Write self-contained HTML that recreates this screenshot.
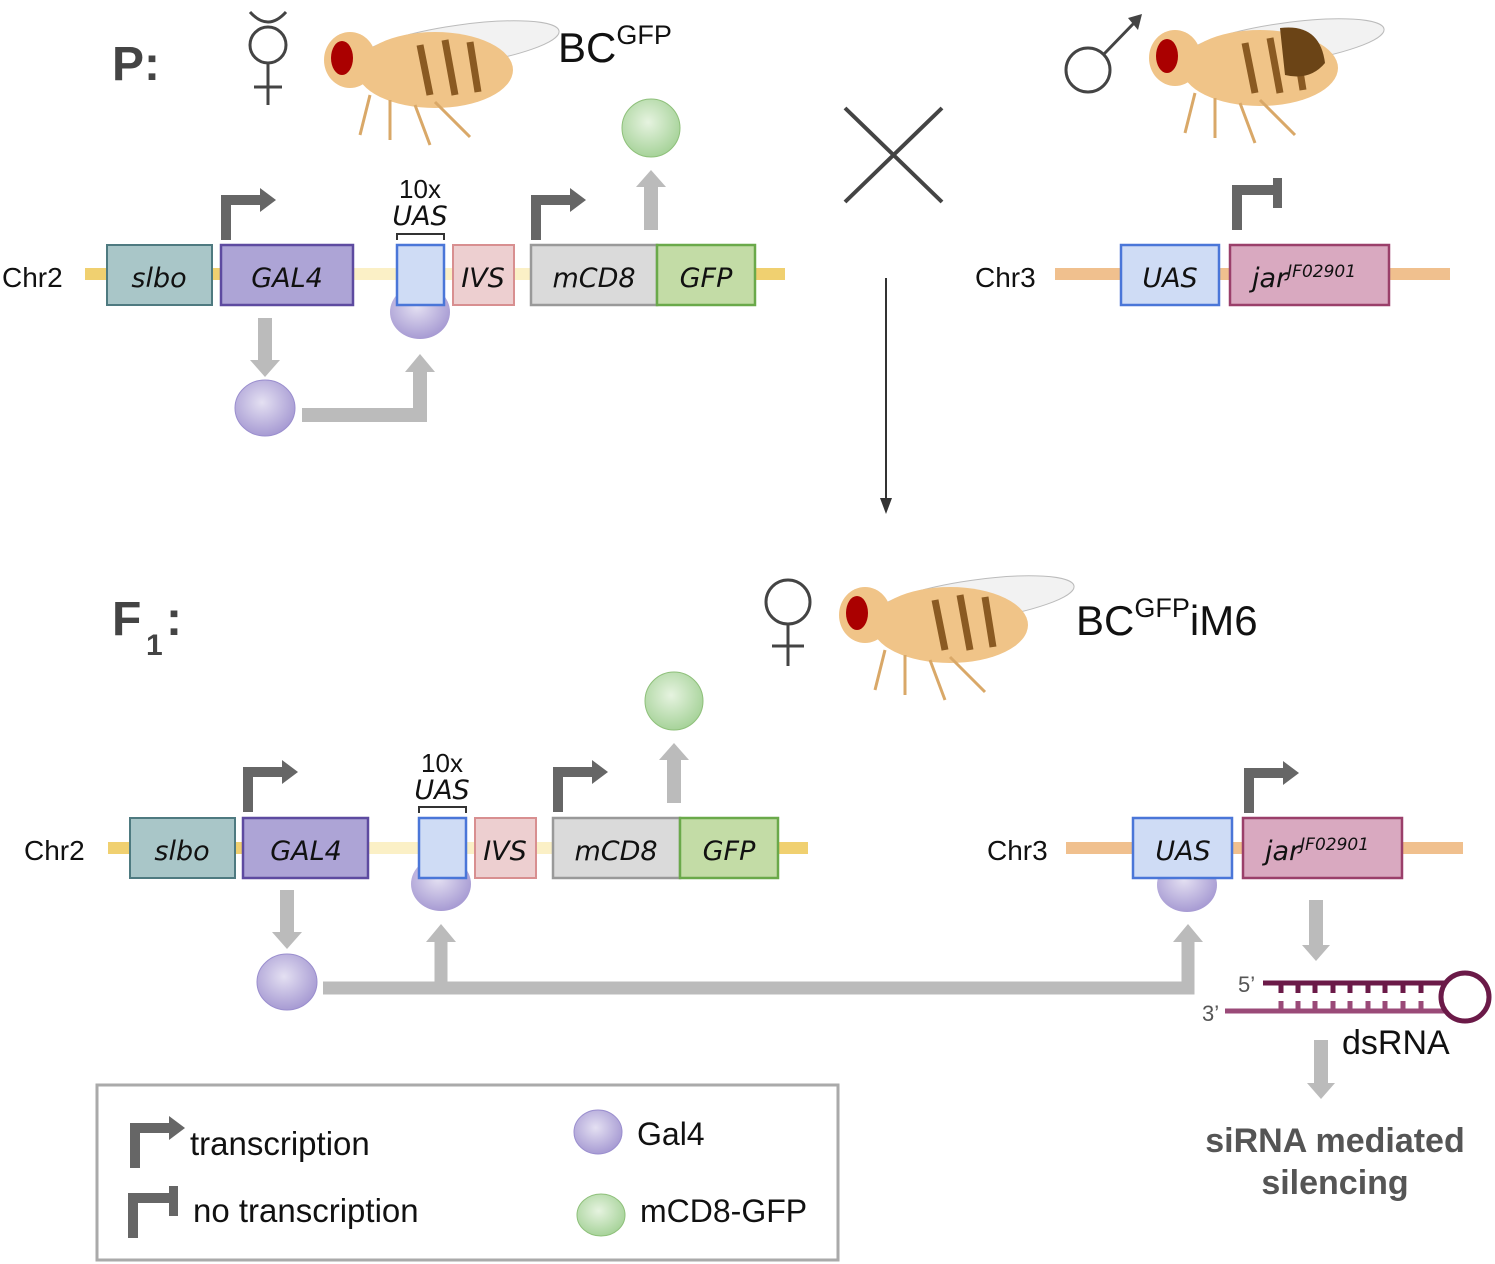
<!DOCTYPE html>
<html><head><meta charset="utf-8"><style>
body{margin:0;background:#fff}
svg{display:block}
text{font-family:"Liberation Sans",sans-serif}
.it{font-family:"DejaVu Sans","Liberation Sans",sans-serif;font-style:italic;font-size:27px;fill:#111}
</style></head><body>
<svg width="1495" height="1264" viewBox="0 0 1495 1264">
<defs>
<radialGradient id="pur" cx="0.45" cy="0.4" r="0.6"><stop offset="0" stop-color="#e4e0f2"/><stop offset="1" stop-color="#a79bd3"/></radialGradient>
<radialGradient id="grn" cx="0.45" cy="0.4" r="0.6"><stop offset="0" stop-color="#e6f3e0"/><stop offset="1" stop-color="#a7d39a"/></radialGradient>
<g id="tr"><path d="M0 40 V0 H36" fill="none" stroke="#666" stroke-width="10"/><path d="M34 -12 L50 0 L34 12Z" fill="#666"/></g>
<g id="ntr"><path d="M0 48 V8 H40" fill="none" stroke="#666" stroke-width="10"/><rect x="36" y="-4" width="9" height="30" fill="#666"/></g>
<g id="fly">
<ellipse cx="110" cy="25" rx="100" ry="20" fill="#f2f2f2" stroke="#bbb" transform="rotate(-8 110 25)"/>
<ellipse cx="85" cy="50" rx="78" ry="38" fill="#f0c488"/>
<ellipse cx="0" cy="40" rx="26" ry="28" fill="#f0c488"/>
<ellipse cx="-8" cy="38" rx="11" ry="17" fill="#a00"/>
<path d="M70 25 l10 50 M95 20 l10 55 M120 22 l8 50" stroke="#8a5a22" stroke-width="7"/>
<path d="M20 75 l-10 40 M40 80 l0 40 M65 85 l15 40 M85 82 l35 35" stroke="#d9a868" stroke-width="3" fill="none"/>
</g>
</defs>

<!-- P row -->
<text x="112" y="80" font-size="48" font-weight="bold" fill="#444">P:</text>
<g stroke="#444" stroke-width="3" fill="none"><circle cx="268" cy="45" r="18"/><path d="M250 12 q18 20 36 0 M268 63 v42 M254 87 h28"/></g>
<use href="#fly" x="350" y="20"/>
<text x="558" y="62" font-size="42" fill="#111">BC<tspan font-size="27" dy="-18">GFP</tspan></text>
<g stroke="#444" stroke-width="3" fill="none"><circle cx="1088" cy="70" r="22"/><path d="M1104 54 L1135 22"/></g>
<path d="M1128 18 L1142 14 L1138 30Z" fill="#444"/>
<use href="#fly" x="1175" y="18"/>
<path d="M1280 28 q40 -5 45 35 q-15 18 -40 12Z" fill="#6b4416"/>

<line x1="85" y1="274" x2="785" y2="274" stroke="#f0d070" stroke-width="12"/>
<line x1="353" y1="274" x2="531" y2="274" stroke="#fbf0c6" stroke-width="12"/>
<use href="#tr" x="226" y="200"/><use href="#tr" x="536" y="200"/>
<rect x="107" y="245" width="105" height="60" fill="#a9c6c8" stroke="#4e7a80" stroke-width="2"/>
<text x="159" y="287" class="it" text-anchor="middle">slbo</text>
<rect x="221" y="245" width="132" height="60" fill="#ada4d6" stroke="#5d4aa0" stroke-width="2.5"/>
<text x="287" y="287" class="it" text-anchor="middle">GAL4</text>
<ellipse cx="420" cy="312" rx="30" ry="27" fill="url(#pur)"/>
<rect x="397" y="245" width="47" height="60" fill="#cfdcf5" stroke="#4a76d8" stroke-width="2.5"/>
<text x="420" y="198" font-size="26" text-anchor="middle" fill="#111">10x</text>
<text x="420" y="225" class="it" font-size="25" text-anchor="middle">UAS</text>
<path d="M397 240 v-6 h47 v6" fill="none" stroke="#333" stroke-width="2"/>
<rect x="453" y="245" width="61" height="60" fill="#edcfd0" stroke="#d88f90" stroke-width="2"/>
<text x="483" y="287" class="it" text-anchor="middle">IVS</text>
<rect x="531" y="245" width="126" height="60" fill="#dadada" stroke="#999" stroke-width="2.5"/>
<text x="594" y="287" class="it" text-anchor="middle">mCD8</text>
<rect x="657" y="245" width="98" height="60" fill="#c3dca6" stroke="#6aa94a" stroke-width="2.5"/>
<text x="706" y="287" class="it" text-anchor="middle">GFP</text>
<text x="2" y="287" font-size="28" fill="#111">Chr2</text>
<rect x="644" y="185" width="14" height="45" fill="#bbb"/><path d="M636 187 L651 170 L666 187Z" fill="#bbb"/>
<circle cx="651" cy="128" r="29" fill="url(#grn)" stroke="#8ec07a"/>
<rect x="258" y="318" width="14" height="45" fill="#bbb"/><path d="M250 360 L265 377 L280 360Z" fill="#bbb"/>
<ellipse cx="265" cy="408" rx="30" ry="28" fill="url(#pur)" stroke="#9a8ece"/>
<path d="M302 415 H420 V370" fill="none" stroke="#bbb" stroke-width="14"/><path d="M405 372 L420 354 L435 372Z" fill="#bbb"/>

<line x1="1055" y1="274" x2="1450" y2="274" stroke="#f0c08e" stroke-width="12"/>
<use href="#ntr" x="1237" y="182"/>
<rect x="1121" y="245" width="98" height="60" fill="#cfdcf5" stroke="#4a76d8" stroke-width="2.5"/>
<text x="1170" y="287" class="it" text-anchor="middle">UAS</text>
<rect x="1230" y="245" width="159" height="60" fill="#d9a9c0" stroke="#9a3f6a" stroke-width="2.5"/>
<text x="1252" y="287" class="it">jar<tspan font-size="17" dy="-10">JF02901</tspan></text>
<text x="975" y="287" font-size="28" fill="#111">Chr3</text>

<path d="M845 108 L942 202 M942 108 L845 202" stroke="#444" stroke-width="4"/>
<line x1="886" y1="278" x2="886" y2="500" stroke="#333" stroke-width="2"/><path d="M880 498 L886 514 L892 498Z" fill="#333"/>

<!-- F1 row -->
<text x="112" y="635" font-size="48" font-weight="bold" fill="#444">F</text><text x="146" y="655" font-size="30" font-weight="bold" fill="#444">1</text><text x="166" y="635" font-size="48" font-weight="bold" fill="#444">:</text>
<g stroke="#444" stroke-width="3" fill="none"><circle cx="788" cy="602" r="22"/><path d="M788 624 v42 M772 646 h32"/></g>
<use href="#fly" x="865" y="575"/>
<text x="1076" y="635" font-size="42" fill="#111">BC<tspan font-size="27" dy="-18">GFP</tspan><tspan font-size="42" dy="18">iM6</tspan></text>

<line x1="108" y1="848" x2="808" y2="848" stroke="#f0d070" stroke-width="12"/>
<line x1="368" y1="848" x2="553" y2="848" stroke="#fbf0c6" stroke-width="12"/>
<use href="#tr" x="248" y="772"/><use href="#tr" x="558" y="772"/>
<rect x="130" y="818" width="105" height="60" fill="#a9c6c8" stroke="#4e7a80" stroke-width="2"/>
<text x="182" y="860" class="it" text-anchor="middle">slbo</text>
<rect x="243" y="818" width="125" height="60" fill="#ada4d6" stroke="#5d4aa0" stroke-width="2.5"/>
<text x="306" y="860" class="it" text-anchor="middle">GAL4</text>
<ellipse cx="441" cy="884" rx="30" ry="27" fill="url(#pur)"/>
<rect x="419" y="818" width="47" height="60" fill="#cfdcf5" stroke="#4a76d8" stroke-width="2.5"/>
<text x="442" y="772" font-size="26" text-anchor="middle" fill="#111">10x</text>
<text x="442" y="799" class="it" font-size="25" text-anchor="middle">UAS</text>
<path d="M419 813 v-6 h47 v6" fill="none" stroke="#333" stroke-width="2"/>
<rect x="475" y="818" width="61" height="60" fill="#edcfd0" stroke="#d88f90" stroke-width="2"/>
<text x="505" y="860" class="it" text-anchor="middle">IVS</text>
<rect x="553" y="818" width="127" height="60" fill="#dadada" stroke="#999" stroke-width="2.5"/>
<text x="616" y="860" class="it" text-anchor="middle">mCD8</text>
<rect x="680" y="818" width="98" height="60" fill="#c3dca6" stroke="#6aa94a" stroke-width="2.5"/>
<text x="729" y="860" class="it" text-anchor="middle">GFP</text>
<text x="24" y="860" font-size="28" fill="#111">Chr2</text>
<rect x="667" y="758" width="14" height="45" fill="#bbb"/><path d="M659 760 L674 743 L689 760Z" fill="#bbb"/>
<circle cx="674" cy="701" r="29" fill="url(#grn)" stroke="#8ec07a"/>
<rect x="280" y="890" width="14" height="45" fill="#bbb"/><path d="M272 932 L287 949 L302 932Z" fill="#bbb"/>
<ellipse cx="287" cy="982" rx="30" ry="28" fill="url(#pur)" stroke="#9a8ece"/>
<path d="M323 988 H1188 V940 M441 988 V940" fill="none" stroke="#bbb" stroke-width="13"/>
<path d="M426 942 L441 924 L456 942Z M1173 942 L1188 924 L1203 942Z" fill="#bbb"/>

<line x1="1066" y1="848" x2="1463" y2="848" stroke="#f0c08e" stroke-width="12"/>
<ellipse cx="1187" cy="885" rx="30" ry="27" fill="url(#pur)"/>
<use href="#tr" x="1249" y="773"/>
<rect x="1133" y="818" width="99" height="60" fill="#cfdcf5" stroke="#4a76d8" stroke-width="2.5"/>
<text x="1183" y="860" class="it" text-anchor="middle">UAS</text>
<rect x="1243" y="818" width="159" height="60" fill="#d9a9c0" stroke="#9a3f6a" stroke-width="2.5"/>
<text x="1265" y="860" class="it">jar<tspan font-size="17" dy="-10">JF02901</tspan></text>
<text x="987" y="860" font-size="28" fill="#111">Chr3</text>

<rect x="1309" y="900" width="14" height="45" fill="#bbb"/><path d="M1302 945 L1316 961 L1330 945Z" fill="#bbb"/>
<path d="M1263 983 H1445" stroke="#6b1a48" stroke-width="5"/>
<path d="M1225 1011 H1445" stroke="#9a4a78" stroke-width="5"/>
<g stroke="#6b1a48" stroke-width="5"><path d="M1281 983v10M1298 983v10M1315 983v10M1333 983v10M1350 983v10M1368 983v10M1385 983v10M1403 983v10M1421 983v10"/></g>
<g stroke="#9a4a78" stroke-width="5"><path d="M1281 1001v10M1298 1001v10M1315 1001v10M1333 1001v10M1350 1001v10M1368 1001v10M1385 1001v10M1403 1001v10M1421 1001v10"/></g>
<circle cx="1465" cy="997" r="24" fill="none" stroke="#6b1a48" stroke-width="5"/>
<text x="1238" y="992" font-size="22" fill="#555">5’</text>
<text x="1202" y="1021" font-size="22" fill="#555">3’</text>
<text x="1342" y="1054" font-size="34" fill="#111">dsRNA</text>
<rect x="1314" y="1040" width="14" height="45" fill="#bbb"/><path d="M1307 1083 L1321 1099 L1335 1083Z" fill="#bbb"/>
<text x="1335" y="1152" font-size="34" font-weight="bold" fill="#555" text-anchor="middle">siRNA mediated</text>
<text x="1335" y="1194" font-size="34" font-weight="bold" fill="#555" text-anchor="middle">silencing</text>

<!-- legend -->
<rect x="97" y="1085" width="741" height="175" fill="none" stroke="#aaa" stroke-width="3"/>
<use href="#tr" x="135" y="1128"/>
<text x="190" y="1155" font-size="33" fill="#111">transcription</text>
<use href="#ntr" x="133" y="1190"/>
<text x="193" y="1222" font-size="33" fill="#111">no transcription</text>
<ellipse cx="598" cy="1132" rx="24" ry="22" fill="url(#pur)" stroke="#9a8ece"/>
<text x="637" y="1145" font-size="32" fill="#111">Gal4</text>
<ellipse cx="601" cy="1215" rx="24" ry="21" fill="url(#grn)" stroke="#8ec07a"/>
<text x="640" y="1222" font-size="32" fill="#111">mCD8-GFP</text>
</svg>
</body></html>
